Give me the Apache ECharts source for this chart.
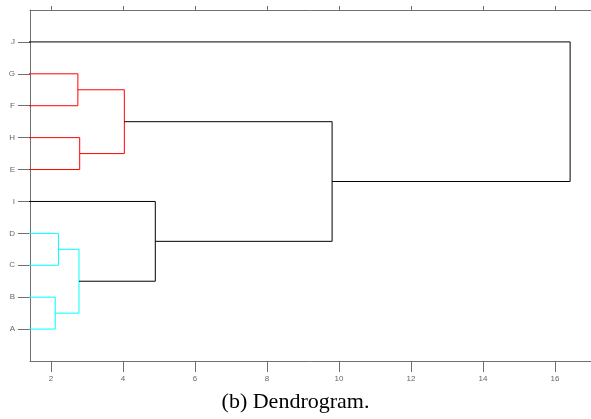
<!DOCTYPE html>
<html>
<head>
<meta charset="utf-8">
<script src="https://cdn.jsdelivr.net/npm/echarts@6/dist/echarts.min.js"></script>
<style>
html,body{margin:0;padding:0;background:#fff;}
#chart{width:591px;height:419px;}
</style>
</head>
<body>
<div id="chart"></div>
<script>
// Leaves, bottom to top
const leafOrder = ['A','B','C','D','I','E','H','F','G','J'];
// Merges: node N(k+1) joins mergeA[k] and mergeB[k] at mergeHeights[k]
const mergeA = ['A','C','G','N1','H','N3','I','N6','J'];
const mergeB = ['B','D','F','N2','E','N5','N4','N7','N8'];
const mergeHeights = [2.12, 2.21, 2.75, 2.78, 2.80, 4.04, 4.90, 9.81, 16.42];
// cluster group of each merge link (0 = above threshold)
const mergeGroup = [1, 1, 2, 1, 2, 2, 0, 0, 0];
// x tick labels
const xTicks = [2, 4, 6, 8, 10, 12, 14, 16];
const yTicks = [1, 2, 3, 4, 5, 6, 7, 8, 9, 10];

const groupColors = ['#000000', '#00ffff', '#ff0000'];

const pos = {}, hgt = {};
leafOrder.forEach((n, i) => { pos[n] = i + 1; hgt[n] = 0; });
const series = [];
mergeA.forEach((a, k) => {
  const b = mergeB[k];
  const h = mergeHeights[k];
  const name = 'N' + (k + 1);
  series.push({
    type: 'line',
    symbol: 'none',
    silent: true,
    clip: true,
    animation: false,
    lineStyle: { color: groupColors[mergeGroup[k]], width: 1 },
    data: [[hgt[a], pos[a]], [h, pos[a]], [h, pos[b]], [hgt[b], pos[b]]]
  });
  pos[name] = (pos[a] + pos[b]) / 2;
  hgt[name] = h;
});

const axisGray = '#707070';
const chart = echarts.init(document.getElementById('chart'), null, { renderer: 'canvas' });
chart.setOption({
  animation: false,
  backgroundColor: '#ffffff',
  title: {
    text: '(b) Dendrogram.',
    left: 'center',
    top: 391,
    padding: 0,
    textStyle: { fontFamily: 'Liberation Serif', fontWeight: 'normal', fontSize: 22, color: '#000' }
  },
  grid: { left: 30, right: 0, top: 10, bottom: 58, containLabel: false },
  xAxis: [{
    type: 'value', position: 'bottom', min: 1.42, max: 17,
    axisLine: { show: true, onZero: false, lineStyle: { color: axisGray, width: 1 } },
    axisTick: { show: true, inside: false, length: 11, customValues: xTicks, lineStyle: { color: axisGray } },
    axisLabel: { show: true, customValues: xTicks, margin: 14, fontSize: 8, color: '#666', fontFamily: 'Liberation Sans' },
    splitLine: { show: false }
  }, {
    type: 'value', position: 'top', min: 1.42, max: 17,
    axisLine: { show: true, onZero: false, lineStyle: { color: axisGray, width: 1 } },
    axisTick: { show: true, inside: false, length: 4, customValues: xTicks, lineStyle: { color: axisGray } },
    axisLabel: { show: false },
    splitLine: { show: false }
  }],
  yAxis: {
    type: 'value', min: 0, max: 11,
    axisLine: { show: true, onZero: false, lineStyle: { color: axisGray, width: 1 } },
    axisTick: { show: true, inside: false, length: 12, customValues: yTicks, lineStyle: { color: axisGray } },
    axisLabel: {
      show: true, customValues: yTicks, margin: 15, fontSize: 8, color: '#666', fontFamily: 'Liberation Sans',
      formatter: v => leafOrder[Math.round(v) - 1] || ''
    },
    splitLine: { show: false }
  },
  series: series
});
</script>
</body>
</html>
